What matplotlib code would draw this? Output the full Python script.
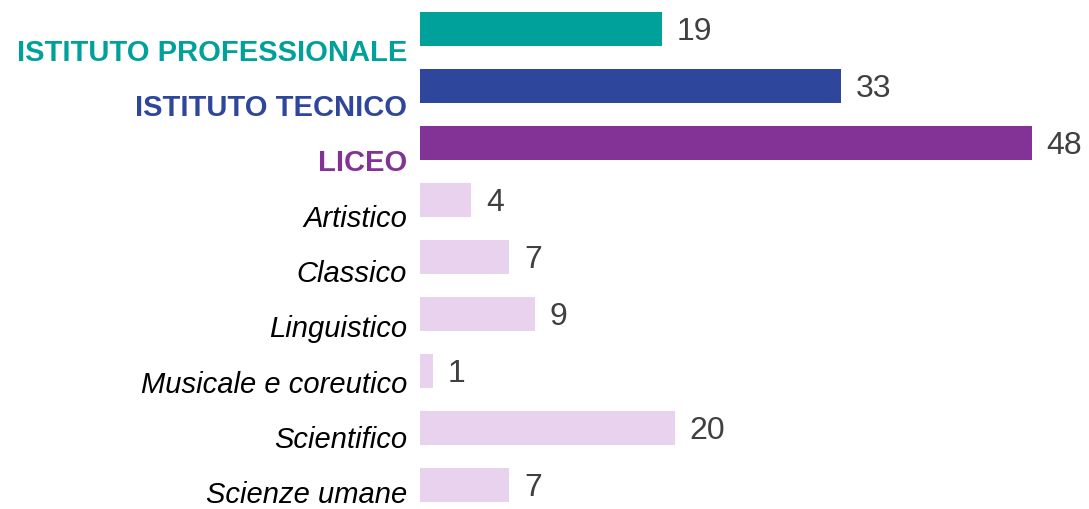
import matplotlib.pyplot as plt

categories = ["ISTITUTO PROFESSIONALE", "ISTITUTO TECNICO", "LICEO",
              "Artistico", "Classico", "Linguistico", "Musicale e coreutico",
              "Scientifico", "Scienze umane"]
values = [19, 33, 48, 4, 7, 9, 1, 20, 7]
bar_colors = ["#00A19A", "#2E479C", "#833296", "#E8D2EE", "#E8D2EE",
              "#E8D2EE", "#E8D2EE", "#E8D2EE", "#E8D2EE"]
label_colors = ["#00A19A", "#2E479C", "#833296", "black", "black",
                "black", "black", "black", "black"]
label_weights = ["bold"] * 3 + ["normal"] * 6
label_styles = ["normal"] * 3 + ["italic"] * 6

plt.rcParams['font.family'] = ['Liberation Sans', 'DejaVu Sans']

fig = plt.figure(figsize=(10.89, 5.09), dpi=100)
ax = fig.add_axes([420 / 1089, 0, 669 / 1089, 1])

ypos = list(range(len(categories)))
ax.barh(ypos, values, height=0.596, color=bar_colors)
ax.set_xlim(0, 52.5)
ax.set_ylim(8.421, -0.509)
ax.axis("off")

for i, (cat, v) in enumerate(zip(categories, values)):
    # category labels sit a bit below their bars, drifting up toward the bottom
    ax.annotate(cat, xy=(0, i), xytext=(-13, -(23.5 - 1.65 * i)),
                textcoords="offset pixels",
                ha="right", va="center", fontsize=21, color=label_colors[i],
                fontweight=label_weights[i], fontstyle=label_styles[i],
                annotation_clip=False)
    ax.annotate(str(v), xy=(v, i), xytext=(15, -3), textcoords="offset pixels",
                ha="left", va="center", fontsize=23, color="#404040",
                annotation_clip=False)

fig.savefig("out.png", dpi=100)
